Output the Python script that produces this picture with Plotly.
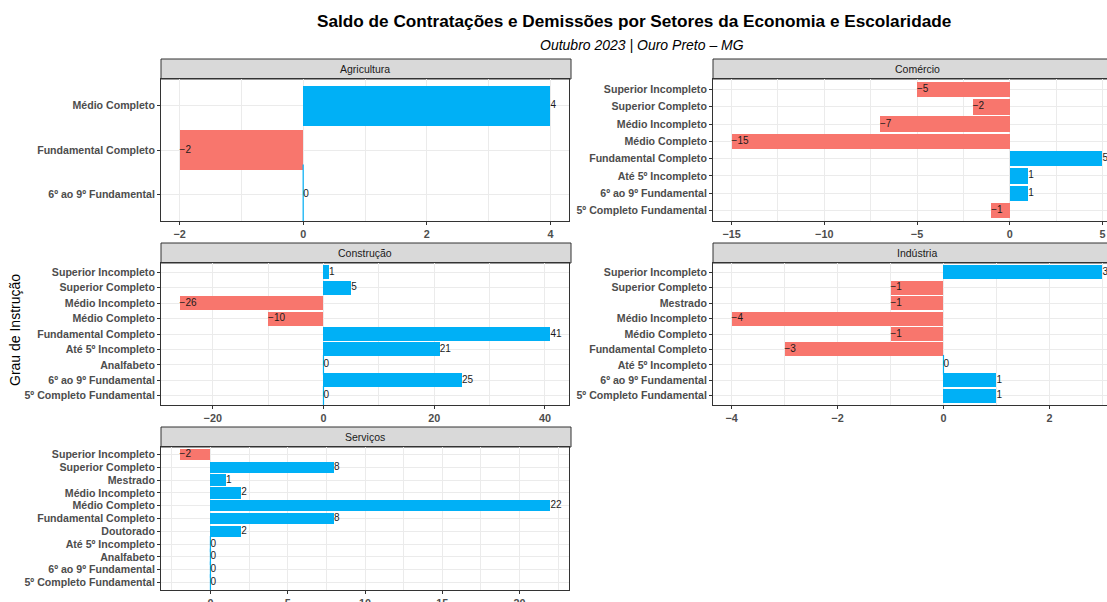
import plotly.graph_objects as go

# data per sector (categories bottom -> top, as ggplot orders them)
agri_cats = ["6º ao 9º Fundamental", "Fundamental Completo", "Médio Completo"]
agri_vals = [0, -2, 4]

comercio_cats = ["5º Completo Fundamental", "6º ao 9º Fundamental", "Até 5º Incompleto",
                 "Fundamental Completo", "Médio Completo", "Médio Incompleto",
                 "Superior Completo", "Superior Incompleto"]
comercio_vals = [-1, 1, 1, 5, -15, -7, -2, -5]

construcao_cats = ["5º Completo Fundamental", "6º ao 9º Fundamental", "Analfabeto",
                   "Até 5º Incompleto", "Fundamental Completo", "Médio Completo",
                   "Médio Incompleto", "Superior Completo", "Superior Incompleto"]
construcao_vals = [0, 25, 0, 21, 41, -10, -26, 5, 1]

industria_cats = ["5º Completo Fundamental", "6º ao 9º Fundamental", "Até 5º Incompleto",
                  "Fundamental Completo", "Médio Completo", "Médio Incompleto",
                  "Mestrado", "Superior Completo", "Superior Incompleto"]
industria_vals = [1, 1, 0, -3, -1, -4, -1, -1, 3]

servicos_cats = ["5º Completo Fundamental", "6º ao 9º Fundamental", "Analfabeto",
                 "Até 5º Incompleto", "Doutorado", "Fundamental Completo",
                 "Médio Completo", "Médio Incompleto", "Mestrado",
                 "Superior Completo", "Superior Incompleto"]
servicos_vals = [0, 0, 0, 0, 2, 8, 22, 2, 1, 8, -2]

W, H = 1107, 602
FONT = "Liberation Sans, Arial, sans-serif"
POS = "#00B0F6"
NEG = "#F8766D"

# (name, cats, vals, dtick, left px, right px (full panel), top px, bottom px)
panels = [
    ("Agricultura", agri_cats, agri_vals, 2, 161, 569, 79, 221),
    ("Comércio", comercio_cats, comercio_vals, 5, 713, 1121, 79, 221),
    ("Construção", construcao_cats, construcao_vals, 20, 161, 569, 263, 405),
    ("Indústria", industria_cats, industria_vals, 2, 713, 1121, 263, 405),
    ("Serviços", servicos_cats, servicos_vals, 5, 161, 569, 447, 590),
]


def fmt(v):
    return ("\u2212" + str(-v)) if v < 0 else str(v)


def py(p):
    return 1 - p / H


fig = go.Figure()
shapes = []
annotations = []

for i, (name, cats, vals, dtick, x0, x1, y0, y1) in enumerate(panels):
    k = "" if i == 0 else str(i + 1)
    xa, ya = "x" + k, "y" + k
    lo, hi = min(min(vals), 0), max(max(vals), 0)
    span = hi - lo
    rlo, rhi = lo - 0.05 * span, hi + 0.05 * span
    # panels on the right are cut by the picture edge
    vis_x1 = min(x1, W)
    rhi_vis = rlo + (rhi - rlo) * (vis_x1 - x0) / (x1 - x0)

    colors = [POS if v >= 0 else NEG for v in vals]
    fig.add_trace(go.Bar(
        x=vals, y=cats, orientation="h", width=0.9,
        marker=dict(color=colors, line=dict(width=0)),
        xaxis=xa, yaxis=ya, showlegend=False, hoverinfo="x+y",
    ))
    # zero-valued bars show as a thin blue line in the reference
    zc = [c for c, v in zip(cats, vals) if v == 0]
    if zc:
        bar_px = (y1 - y0) / len(cats) * 0.9
        fig.add_trace(go.Scatter(
            x=[0] * len(zc), y=zc, mode="markers",
            marker=dict(symbol="line-ns", size=bar_px, line=dict(color=POS, width=1.2)),
            xaxis=xa, yaxis=ya, showlegend=False, hoverinfo="skip",
        ))
    fig.add_trace(go.Scatter(
        x=vals, y=cats, mode="text", text=[fmt(v) for v in vals],
        textposition="middle right",
        textfont=dict(family=FONT, size=10, color="#1A1A1A"),
        xaxis=xa, yaxis=ya, showlegend=False, hoverinfo="skip", cliponaxis=False,
    ))

    fig.layout["xaxis" + k] = dict(
        domain=[x0 / W, vis_x1 / W], anchor=ya, range=[rlo, rhi_vis], automargin=False,
        tick0=0, dtick=dtick, showgrid=True, gridcolor="#EBEBEB", gridwidth=1,
        minor=dict(dtick=dtick / 2, showgrid=True, gridcolor="#EBEBEB", gridwidth=0.5),
        zeroline=False, showline=True, mirror=True, linecolor="#333333", linewidth=1,
        ticks="outside", ticklen=3, tickcolor="#333333",
        tickfont=dict(family=FONT, size=10.8, color="#4D4D4D", weight="bold"),
    )
    fig.layout["yaxis" + k] = dict(
        domain=[py(y1), py(y0)], anchor=xa, type="category", automargin=False,
        categoryorder="array", categoryarray=cats, range=[-0.6, len(cats) - 0.4],
        tickmode="array", tickvals=cats, ticktext=cats,
        showgrid=True, gridcolor="#EBEBEB", gridwidth=1, zeroline=False,
        showline=True, mirror=True, linecolor="#333333", linewidth=1,
        ticks="outside", ticklen=3, tickcolor="#333333",
        tickfont=dict(family=FONT, size=10.6, color="#4D4D4D", weight="bold"),
    )
    # facet strip
    st = y0 - 20
    shapes.append(dict(
        type="rect", xref="paper", yref="paper",
        x0=x0 / W, x1=(x1 + 2) / W, y0=py(y0), y1=py(st),
        fillcolor="#D9D9D9", line=dict(color="#333333", width=1), layer="below",
    ))
    annotations.append(dict(
        text=name, xref="paper", yref="paper", showarrow=False,
        x=(x0 + x1) / 2 / W, y=py(st + 10), xanchor="center", yanchor="middle",
        font=dict(family=FONT, size=10.5, color="#1A1A1A"),
    ))

annotations += [
    dict(text="Saldo de Contratações e Demissões por Setores da Economia e Escolaridade",
         xref="paper", yref="paper", x=634 / W, y=py(21), showarrow=False,
         xanchor="center", yanchor="middle",
         font=dict(family=FONT, size=17.2, color="#000000", weight="bold")),
    dict(text="<i>Outubro 2023 | Ouro Preto \u2013 MG</i>",
         xref="paper", yref="paper", x=642 / W, y=py(45), showarrow=False,
         xanchor="center", yanchor="middle",
         font=dict(family=FONT, size=14, color="#000000")),
    dict(text="Grau de Instrução", xref="paper", yref="paper", x=15 / W, y=py(330),
         showarrow=False, textangle=-90, xanchor="center", yanchor="middle",
         font=dict(family=FONT, size=14, color="#000000")),
]

fig.update_layout(
    width=W, height=H, margin=dict(l=0, r=0, t=0, b=0, autoexpand=False),
    paper_bgcolor="white", plot_bgcolor="white",
    shapes=shapes, annotations=annotations, bargap=0,
    font=dict(family=FONT),
)

# page body has a default 8px margin; drop it so the figure sits at the corner
fig.write_html("out.html", config={"displayModeBar": False},
               post_script="document.body.style.margin='0';")
